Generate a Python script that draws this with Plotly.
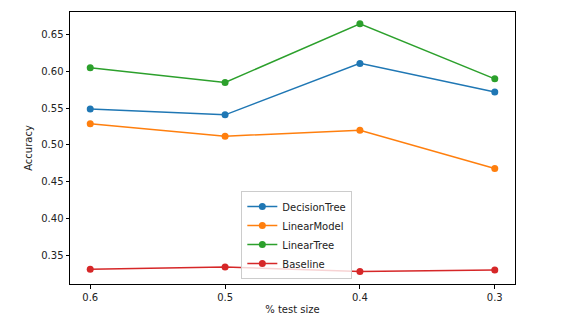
import plotly.graph_objects as go

test_sizes = ["0.6", "0.5", "0.4", "0.3"]
decision_tree = [0.549, 0.541, 0.611, 0.572]
linear_model = [0.529, 0.512, 0.520, 0.468]
linear_tree = [0.605, 0.585, 0.665, 0.590]
baseline = [0.331, 0.334, 0.328, 0.330]

series = [
    ("DecisionTree", decision_tree, "#1f77b4"),
    ("LinearModel", linear_model, "#ff7f0e"),
    ("LinearTree", linear_tree, "#2ca02c"),
    ("Baseline", baseline, "#d62728"),
]

x_idx = list(range(len(test_sizes)))

fig = go.Figure()
for name, vals, color in series:
    fig.add_trace(go.Scatter(
        x=x_idx, y=vals, name=name, mode="lines+markers",
        line=dict(color=color, width=1.5),
        marker=dict(color=color, size=7),
    ))

axis_common = dict(
    showline=True, linecolor="black", linewidth=1, mirror=True,
    ticks="outside", ticklen=3.5, tickcolor="black", tickwidth=1,
    showgrid=False, zeroline=False, automargin=False,
    tickfont=dict(size=10, color="#222"),
)

fig.update_layout(
    width=574, height=321,
    margin=dict(l=70, r=59, t=12, b=37),
    paper_bgcolor="white", plot_bgcolor="white",
    font=dict(family="DejaVu Sans", size=10, color="#222"),
    showlegend=True,
    legend=dict(
        x=0.385, y=0.018, xanchor="left", yanchor="bottom",
        bgcolor="rgba(255,255,255,0.8)", bordercolor="#cccccc", borderwidth=1,
        font=dict(size=10), tracegroupgap=0, itemwidth=30,
    ),
    xaxis=dict(
        **axis_common,
        range=[-0.15, 3.15],
        tickmode="array", tickvals=x_idx, ticktext=test_sizes,
        title=dict(text="% test size", font=dict(size=10), standoff=4),
    ),
    yaxis=dict(
        **axis_common,
        range=[0.3109, 0.6809],
        tickmode="array",
        tickvals=[0.35, 0.40, 0.45, 0.50, 0.55, 0.60, 0.65],
        ticktext=["0.35", "0.40", "0.45", "0.50", "0.55", "0.60", "0.65"],
        title=dict(text="Accuracy", font=dict(size=10), standoff=6),
    ),
)

fig.write_html("out.html")
